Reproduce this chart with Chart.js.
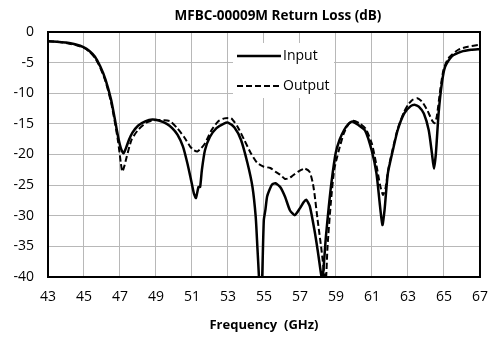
<!DOCTYPE html>
<html>
<head>
<meta charset="utf-8">
<script src="https://cdn.jsdelivr.net/npm/chart.js@4.4.0/dist/chart.umd.min.js"></script>
<style>
  html, body { margin: 0; padding: 0; background: #fff; }
</style>
</head>
<body>
<canvas id="grafico" width="500" height="337"></canvas>
<script>
// Curva de entrada (Input) - frequência em GHz e perda de retorno em dB
const freqEntrada = [43.0, 43.5, 44.0, 44.5, 45.0, 45.3, 45.6, 45.9, 46.2, 46.5, 46.7, 46.9, 47.05, 47.2, 47.35, 47.5, 47.7, 48.0, 48.4, 48.8,
  49.2, 49.6, 49.9, 50.2, 50.5, 50.75, 50.95, 51.1, 51.22, 51.36, 51.45, 51.55, 51.72, 52.0, 52.36, 52.8, 53.0, 53.36, 53.72, 54.08,
  54.36, 54.54, 54.63, 54.72, 54.8, 54.9, 54.99, 55.08, 55.17, 55.3, 55.45, 55.63, 55.9, 56.17, 56.44, 56.71, 56.99, 57.2, 57.35, 57.55,
  57.8, 58.0, 58.17, 58.25, 58.44, 58.6, 58.75, 58.98, 59.2, 59.45, 59.7, 59.9, 60.25, 60.62, 60.98, 61.25, 61.43, 61.58, 61.7, 61.88,
  62.16, 62.43, 62.79, 63.15, 63.4, 63.6, 63.88, 64.15, 64.33, 64.44, 64.55, 64.7, 64.88, 65.06, 65.42, 65.97, 66.5, 67.0];
const perdaEntrada = [-1.5, -1.6, -1.7, -2.0, -2.5, -3.1, -4.0, -5.6, -7.8, -11.0, -14.0, -17.2, -19.0, -19.8, -18.8, -17.6, -16.4, -15.3, -14.6, -14.3,
  -14.5, -15.0, -15.7, -16.8, -18.7, -21.5, -24.2, -26.3, -27.1, -25.3, -25.3, -22.5, -19.3, -17.1, -15.7, -14.9, -14.8, -15.6, -17.6, -21.4,
  -25.3, -30.2, -35.0, -40.0, -46.0, -40.0, -30.7, -29.0, -26.9, -25.8, -24.9, -24.7, -25.3, -26.9, -29.1, -29.9, -28.8, -27.8, -27.4, -28.5,
  -32.3, -36.0, -39.5, -40.5, -33.4, -28.5, -24.5, -19.8, -17.6, -16.0, -15.0, -14.6, -15.2, -16.1, -19.3, -23.1, -28.0, -31.5, -29.0, -23.1,
  -19.3, -16.0, -13.3, -12.1, -11.9, -12.2, -13.3, -16.0, -19.8, -22.3, -19.8, -13.3, -8.4, -5.7, -4.0, -3.2, -2.9, -2.8];

// Curva de saída (Output)
const freqSaida = [43.0, 43.5, 44.0, 44.5, 45.0, 45.3, 45.6, 45.9, 46.2, 46.5, 46.7, 46.9, 47.05, 47.13, 47.25, 47.37, 47.64, 48.0, 48.46, 48.9,
  49.46, 49.8, 50.18, 50.55, 50.9, 51.1, 51.3, 51.5, 51.72, 52.09, 52.45, 52.8, 53.18, 53.54, 53.9, 54.27, 54.63, 54.99, 55.35, 55.63,
  55.9, 56.17, 56.35, 56.53, 56.9, 57.26, 57.53, 57.7, 57.8, 57.98, 58.17, 58.35, 58.44, 58.53, 58.71, 58.9, 59.16, 59.44, 59.7, 59.95,
  60.3, 60.65, 61.0, 61.25, 61.45, 61.61, 61.75, 61.9, 62.16, 62.43, 62.79, 63.0, 63.24, 63.52, 63.79, 64.06, 64.33, 64.48, 64.6, 64.79,
  64.97, 65.24, 65.79, 66.33, 66.96, 67.0];
const perdaSaida = [-1.5, -1.6, -1.8, -2.1, -2.6, -3.2, -4.2, -5.8, -8.1, -11.4, -14.5, -18.0, -21.5, -22.8, -21.8, -20.4, -17.6, -16.0, -14.8, -14.4,
  -14.4, -14.6, -15.7, -17.1, -18.7, -19.3, -19.5, -19.0, -18.2, -16.0, -14.6, -14.1, -14.1, -15.5, -17.6, -19.8, -21.4, -22.0, -22.2, -22.8,
  -23.3, -24.0, -23.9, -23.6, -22.8, -22.3, -22.8, -24.5, -26.3, -30.7, -35.0, -39.4, -40.5, -35.0, -28.0, -22.5, -19.3, -16.5, -15.0, -14.5,
  -14.9, -15.8, -18.3, -21.8, -25.0, -26.6, -25.5, -22.5, -19.0, -15.8, -13.0, -11.9, -11.1, -10.8, -11.4, -12.7, -14.4, -14.9, -13.8, -9.5,
  -6.2, -4.3, -2.9, -2.4, -2.1, -2.1];

const tituloGrafico = "MFBC-00009M Return Loss (dB)";
const tituloEixoX = "Frequency  (GHz)";
const nomesSeries = ["Input", "Output"];

const fonte = '"Open Sans", "DejaVu Sans", sans-serif';

function montarPontos(xs, ys) {
    return xs.map((x, i) => ({ x: x, y: ys[i] }));
}

// Moldura preta, caixa da legenda e título
const molduraLegenda = {
    id: 'molduraLegenda',
    afterDatasetsDraw(chart) {
        const { ctx, chartArea: a } = chart;
        ctx.save();

        // caixa branca da legenda por cima da grade
        ctx.fillStyle = '#fff';
        ctx.fillRect(233, 43, 101, 55);
        chart.data.datasets.forEach((ds, i) => {
            const y = 56 + i * 30;
            ctx.strokeStyle = ds.borderColor;
            ctx.lineWidth = ds.borderWidth;
            ctx.setLineDash(ds.borderDash || []);
            ctx.beginPath();
            ctx.moveTo(237, y);
            ctx.lineTo(281, y);
            ctx.stroke();
            ctx.setLineDash([]);
            ctx.fillStyle = '#000';
            ctx.font = '14px ' + fonte;
            ctx.textAlign = 'left';
            ctx.textBaseline = 'middle';
            ctx.fillText(ds.label, 283, y);
        });

        ctx.strokeStyle = '#000';
        ctx.lineWidth = 2;
        ctx.strokeRect(a.left, a.top, a.right - a.left, a.bottom - a.top);

        ctx.fillStyle = '#000';
        ctx.font = 'bold 13.5px ' + fonte;
        ctx.textAlign = 'center';
        ctx.textBaseline = 'middle';
        ctx.fillText(tituloGrafico, 278, 16);
        ctx.restore();
    }
};

const ctx = document.getElementById("grafico").getContext("2d");
new Chart(ctx, {
    type: 'line',
    data: {
        datasets: [{
            label: nomesSeries[0],
            data: montarPontos(freqEntrada, perdaEntrada),
            borderColor: '#000',
            borderWidth: 2.5,
            pointRadius: 0,
            tension: 0.2
        }, {
            label: nomesSeries[1],
            data: montarPontos(freqSaida, perdaSaida),
            borderColor: '#000',
            borderWidth: 2,
            borderDash: [6, 3],
            pointRadius: 0,
            tension: 0.2
        }]
    },
    options: {
        responsive: false,
        animation: false,
        layout: { padding: { left: 0, right: 11, top: 32, bottom: 0 } },
        plugins: {
            legend: { display: false },
            tooltip: { enabled: false }
        },
        scales: {
            x: {
                type: 'linear',
                min: 43,
                max: 67,
                afterFit: (s) => { s.height = 60; },
                ticks: { stepSize: 2, padding: 12, color: '#000', font: { family: fonte, size: 14 } },
                grid: { color: '#b8b8b8', lineWidth: 1, drawTicks: false },
                border: { color: '#000', width: 2 },
                title: { display: true, text: tituloEixoX, color: '#000', font: { family: fonte, size: 13, weight: 'bold' }, padding: { top: 0, bottom: 4 } }
            },
            y: {
                min: -40,
                max: 0,
                afterFit: (s) => { s.width = 48; },
                ticks: { stepSize: 5, padding: 14, color: '#000', font: { family: fonte, size: 14 } },
                grid: { color: '#b8b8b8', lineWidth: 1, drawTicks: false },
                border: { color: '#000', width: 2 }
            }
        }
    },
    plugins: [molduraLegenda]
});
</script>
</body>
</html>
